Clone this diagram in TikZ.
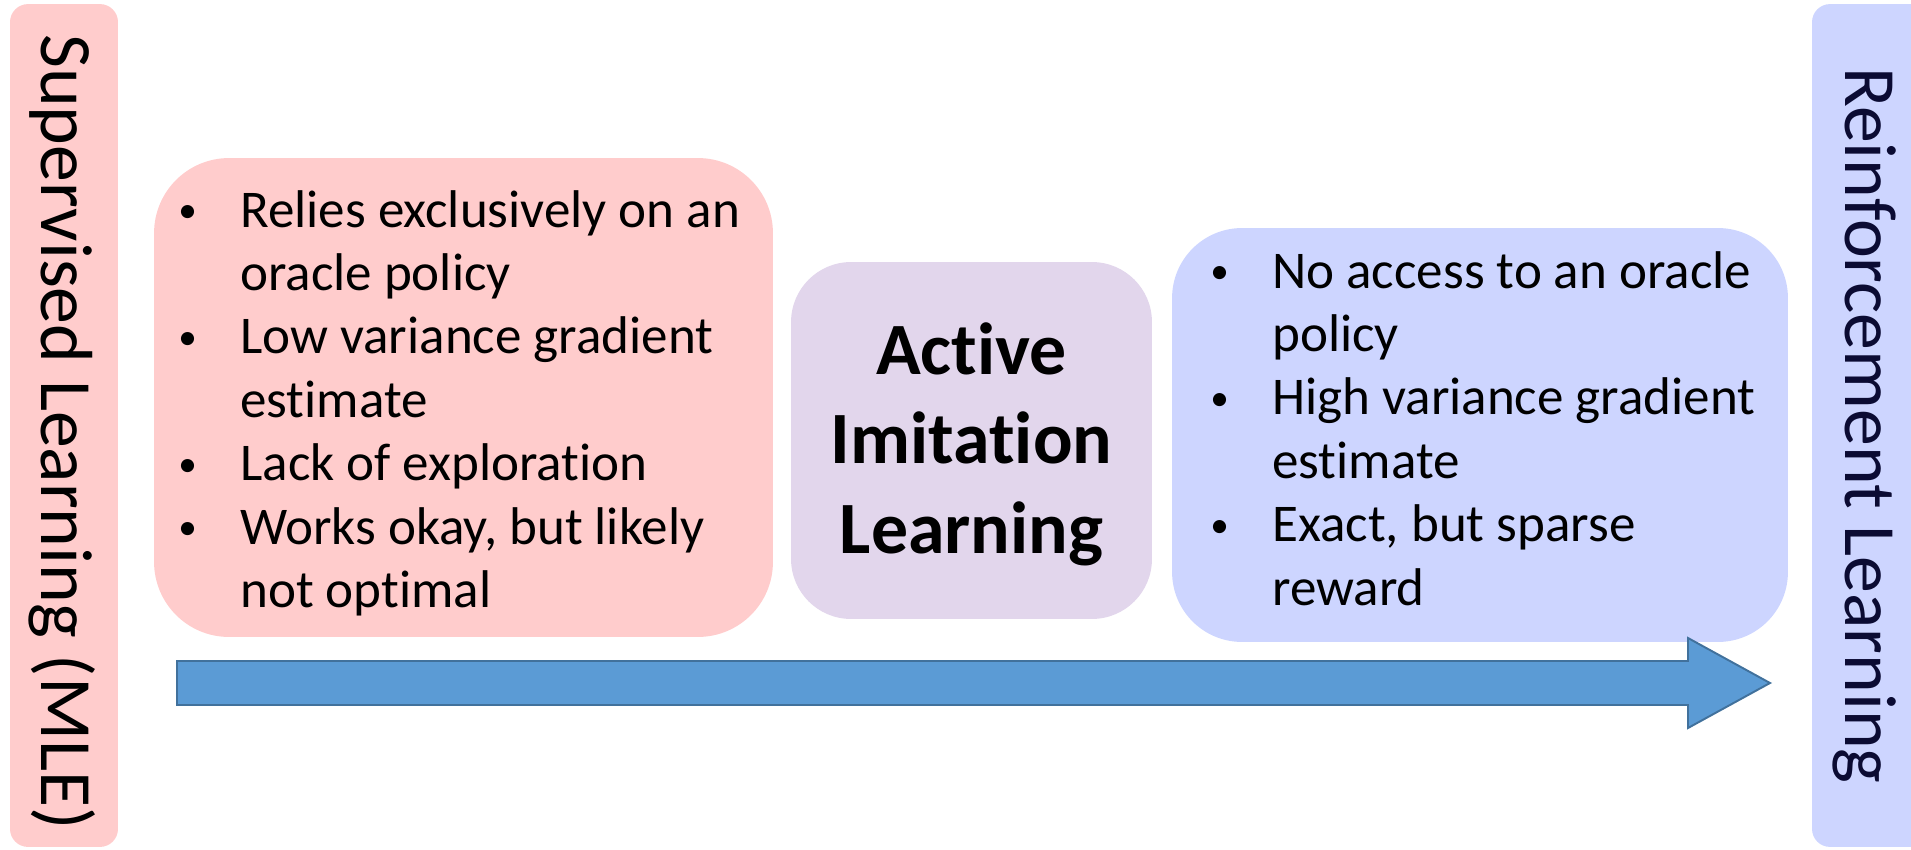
\documentclass[tikz,border=0pt]{standalone}
\usepackage{fontspec}
\setmainfont{Carlito}[Ligatures=NoCommon]

\definecolor{suppink}{HTML}{FFCCCC}
\definecolor{aillilac}{HTML}{E2D6EC}
\definecolor{rlblue}{HTML}{CDD5FF}
\definecolor{rlink}{HTML}{0B0B33}
\definecolor{arrowfill}{HTML}{5B9BD5}
\definecolor{arrowline}{HTML}{41719C}

% small bullet plus hanging gap
\newcommand{\itm}{\makebox[1.24cm][l]{\raisebox{0.08em}{\scalebox{0.7}{\textbullet}}}}

\begin{document}
\begin{tikzpicture}[x=0.02cm, y=-0.02cm,
  band/.style={rounded corners=0.36cm, inner sep=0, minimum height=16.86cm},
  card/.style={inner sep=0},
  items/.style={anchor=base west, inner sep=0, font=\fontsize{30.2}{36.1}\selectfont},
  side/.style={rotate=-90, anchor=base, inner sep=0, font=\fontsize{42}{50}\selectfont}]
  \useasboundingbox (0,0) rectangle (1911,849);
  \clip (0,0) rectangle (1911,849);

  % side bands
  \node[band, fill=suppink, minimum width=2.16cm] (slband) at (64,425.5) {};
  \node[band, fill=rlblue, minimum width=2.56cm] (rlband) at (1876,425.5) {};
  \node[side] (sltext) at (41,432) {Supervised Learning (MLE)};
  \node[side, text=rlink] (rltext) at (1845,425.5) {Reinforcement Learning};

  % the three cards
  \node[card, rounded corners=1.5cm, fill=suppink, minimum width=12.38cm, minimum height=9.58cm] (slcard) at (463.5,397.5) {};
  \node[card, rounded corners=1.2cm, fill=aillilac, minimum width=7.22cm, minimum height=7.14cm] (ailcard) at (971.5,440.5) {};
  \node[card, rounded corners=1.4cm, fill=rlblue, minimum width=12.32cm, minimum height=8.28cm] (rlcard) at (1480,435) {};

  \node[items] (slitems) at (178,227) {\begin{tabular}[t]{@{}l@{}l@{}}
      \itm & Relies exclusively on an\\
           & oracle policy\\
      \itm & Low variance gradient\\
           & estimate\\
      \itm & Lack of exploration\\
      \itm & Works okay, but likely\\
           & not optimal
    \end{tabular}};
  \node[anchor=base, inner sep=0, font=\fontsize{42}{51}\selectfont\bfseries] (ailtext) at (971.5,374)
    {\begin{tabular}[t]{@{}c@{}}Active\\Imitation\\Learning\end{tabular}};
  \node[items] (rlitems) at (1210,288) {\begin{tabular}[t]{@{}l@{}l@{}}
      \itm & No access to an oracle\\
           & policy\\
      \itm & High variance gradient\\
           & estimate\\
      \itm & Exact, but sparse\\
           & reward
    \end{tabular}};

  % block arrow from left to right
  \draw[line width=1.1pt, draw=arrowline, fill=arrowfill, line join=miter]
    (177,661) -- (1688,661) -- (1688,638) -- (1770,683) -- (1688,728) -- (1688,705) -- (177,705) -- cycle;
\end{tikzpicture}
\end{document}
